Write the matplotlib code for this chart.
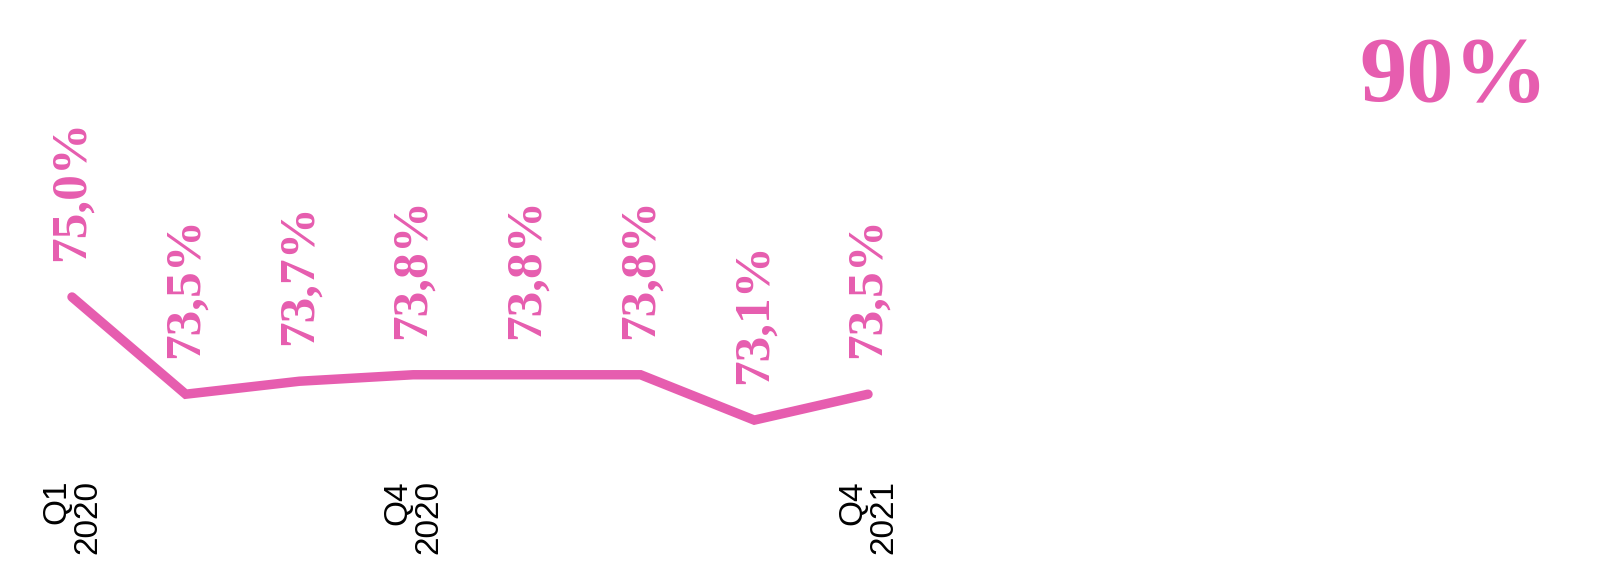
import matplotlib
matplotlib.use("Agg")
import matplotlib.pyplot as plt

# Quarterly share, Q1 2020 .. Q4 2021
quarters = ["Q1 2020", "Q2 2020", "Q3 2020", "Q4 2020",
            "Q1 2021", "Q2 2021", "Q3 2021", "Q4 2021"]
values = [75.0, 73.5, 73.7, 73.8, 73.8, 73.8, 73.1, 73.5]
tick_quarters = ["Q1 2020", "Q4 2020", "Q4 2021"]
headline = "90%"

PINK = "#E65DAF"
SERIF = ["Liberation Serif", "DejaVu Serif"]
SANS = ["Liberation Sans", "DejaVu Sans"]

fig = plt.figure(figsize=(16.10, 5.63), dpi=100)
ax = fig.add_axes([0.0, 83 / 563, 1.0, 1 - 83 / 563])

x = list(range(len(quarters)))
ax.plot(x, values, color=PINK, linewidth=6.8,
        solid_capstyle="round", solid_joinstyle="miter")

# Value labels, rotated, just above each point
for xi, v in zip(x, values):
    label = f"{v:.1f}".replace(".", ",") + "%"
    ax.annotate(label, (xi, v), xytext=(0, 26), textcoords="offset points",
                rotation=90, ha="center", va="bottom",
                fontsize=37, fontweight="bold", family=SERIF, color=PINK)

ax.set_xlim(-0.633, 13.525)
ax.set_ylim(72.176, 79.583)

tick_pos = [quarters.index(q) for q in tick_quarters]
tick_labels = [q.replace(" ", "\n") for q in tick_quarters]
ax.set_xticks(tick_pos)
ax.set_xticklabels(tick_labels, rotation=90, ha="center", va="top",
                   multialignment="right", fontsize=24, family=SANS,
                   color="black", linespacing=1.0)
ax.tick_params(axis="x", length=0, pad=0)
ax.set_yticks([])
for s in ax.spines.values():
    s.set_visible(False)
ax.patch.set_visible(False)

fig.text(1548 / 1610, 1 - 101 / 563, headline, ha="right", va="baseline",
         fontsize=68, fontweight="bold", family=SERIF, color=PINK)

fig.savefig("out.png", dpi=100)
